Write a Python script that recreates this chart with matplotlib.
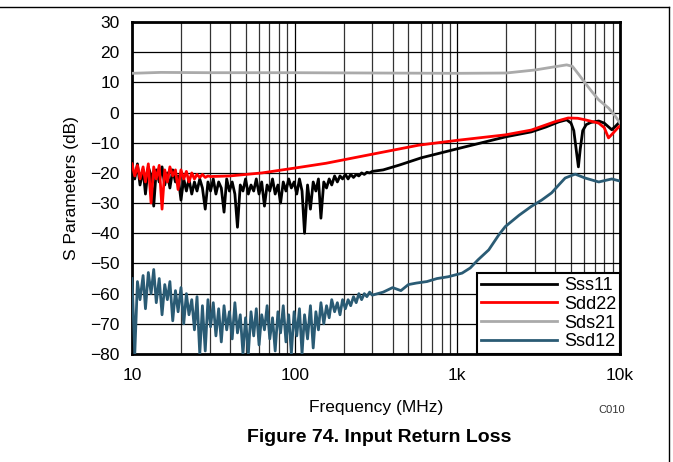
import matplotlib
matplotlib.use("Agg")
import matplotlib.pyplot as plt
from matplotlib.lines import Line2D

plt.rcParams['font.family'] = ['Liberation Sans', 'DejaVu Sans']

# frequency grid of the noisy low band (MHz)
f_low = [10, 10.4, 10.8, 11.2, 11.7, 12.1, 12.6, 13.1, 13.6, 14.1,
         14.7, 15.3, 15.9, 16.5, 17.1, 17.8, 18.5, 19.2, 20.0, 20.8,
         21.6, 22.4, 23.3, 24.2, 25.1, 26.1, 27.1, 28.2, 29.3, 30.4,
         31.6, 32.8, 34.1, 35.4, 36.8, 38.2, 39.7, 41.3, 42.9, 44.5,
         46.3, 48.1, 49.9, 51.9, 53.9, 56.0, 58.1, 60.4, 62.7, 65.2,
         67.7, 70.3, 73.1, 75.9, 78.9, 81.9, 85.1, 88.4, 91.9, 95.4,
         99.2, 103, 107, 111, 115, 120, 125, 130, 135, 140,
         145, 151, 157, 163, 169, 176, 183, 190, 197, 205,
         213, 221, 230, 239, 248, 258, 268, 278, 289, 300]

# Sss11
sss11_low = [-18, -22, -17, -24, -19, -27, -18, -21, -31, -19,
             -23, -18, -24, -20, -25, -19, -23, -21, -29, -22,
             -26, -22, -27, -23, -26, -22, -25, -32, -23, -26,
             -22, -27, -23, -25, -33, -22, -26, -23, -27, -38,
             -24, -26, -22, -27, -24, -26, -22, -27, -23, -31,
             -24, -26, -22, -27, -24, -30, -23, -26, -22, -25,
             -23, -27, -22, -26, -40, -24, -32, -23, -26, -22,
             -35, -23, -25, -22, -24, -21, -23, -21, -22, -20.5,
             -22, -20.5, -21.5, -20.5, -21, -20, -20.5, -19.8, -20, -19.5]
f_sss11_hi = [350, 440, 600, 1000, 2000, 2850, 3500, 4200, 4700, 5000, 5200,
              5400, 5550, 5700, 5900, 6200, 6600, 7400, 8000, 8900, 9400, 10000]
sss11_hi = [-19, -17.4, -15, -12, -8, -6.4, -4.8, -3.1, -2.4, -3.5, -6,
            -13, -18, -12, -6, -4, -3.3, -2.8, -3.5, -5.7, -4.5, -3]

# Sdd22
sdd22_low = [-17, -21, -17.5, -22, -18, -23, -17, -30, -18, -22,
             -17.5, -32, -19, -23, -18, -21, -19, -25.5, -19, -22,
             -19.5, -23, -20, -22, -20.5, -21.5, -20.5, -21.5, -21, -21.2]
f_sdd22_hi = [40, 63, 100, 156, 300, 580, 1000, 1970, 2850, 4000, 4800,
              5500, 6100, 7400, 8000, 8500, 9000, 9800, 10000]
sdd22_hi = [-21, -20, -18.4, -16.8, -13.8, -10.8, -9.2, -7.4, -5.8, -3, -1.8,
            -1.9, -2.4, -3.5, -5, -8.4, -7, -4.8, -4.5]

# Sds21
f_sds21 = [10, 15, 30, 100, 300, 1000, 2000, 3000, 4000, 4700, 5100,
           5600, 6100, 6700, 7400, 8500, 9300, 10000]
sds21 = [13, 13.3, 13.2, 13.2, 13.1, 13.0, 13.1, 14.1, 15.2, 15.8, 15.3,
         12.5, 9.8, 7, 4.2, 1.5, -1, -3.5]

# Ssd12
ssd12_low = [-55, -80, -56, -62, -54, -65, -53, -60, -52, -63,
             -55, -67, -57, -62, -56, -69, -59, -66, -58, -70,
             -60, -67, -62, -72, -61, -80, -64, -79, -62, -71,
             -63, -74, -65, -76, -64, -72, -66, -75, -63, -73,
             -67, -80, -68, -80, -66, -74, -65, -77, -67, -72,
             -64, -75, -68, -79, -66, -73, -64, -76, -67, -80,
             -66, -74, -65, -80, -67, -75, -64, -78, -66, -72,
             -63, -70, -64, -68, -62, -66, -63, -67, -62, -65,
             -62, -64, -61, -63, -60, -62, -60, -61, -59.5, -60.5]
f_ssd12_hi = [350, 400, 450, 500, 560, 650, 750, 880, 1070, 1200, 1340,
              1560, 1800, 1970, 2400, 2850, 3300, 3800, 4200, 4600, 5300,
              6100, 7400, 8900, 10000]
ssd12_hi = [-59.5, -58, -59, -57, -56.5, -56, -55, -54.4, -53.2, -51.5, -48.8,
            -45.5, -40.5, -37.8, -34, -31.1, -29, -26.6, -24, -21.7, -20.4,
            -21.7, -23, -22, -22.7]

fig = plt.figure(figsize=(6.73, 4.62), dpi=100)
ax = fig.add_axes([132/673, 1 - 354/462, (620 - 132)/673, (354 - 22)/462])

lw = 2.0
ax.plot(f_low + f_sss11_hi, sss11_low + sss11_hi, color='black', lw=lw, label='Sss11', zorder=3)
ax.plot(f_low[:30] + f_sdd22_hi, sdd22_low + sdd22_hi, color='#ff0000', lw=lw, label='Sdd22', zorder=4)
ax.plot(f_sds21, sds21, color='#aaaaaa', lw=lw, label='Sds21', zorder=3)
ax.plot(f_low + f_ssd12_hi, ssd12_low + ssd12_hi, color='#2a5b74', lw=lw, label='Ssd12', zorder=3)

ax.set_xscale('log')
ax.set_xlim(10, 10000)
ax.set_ylim(-80, 30)
ax.set_yticks(range(-80, 31, 10))
ax.set_xticks([10, 100, 1000, 10000])
ax.set_xticklabels(['10', '100', '1k', '10k'])
ax.tick_params(which='both', length=0, labelsize=12.5)
ax.tick_params(axis='x', pad=10)
ax.tick_params(axis='y', pad=9)
ax.grid(True, which='major', color='black', lw=0.9)
ax.grid(True, which='minor', axis='x', color='#333333', lw=0.9)
for s in ax.spines.values():
    s.set_linewidth(2)
ax.set_axisbelow(True)

ax.set_xlabel('Frequency (MHz)', fontsize=12.5, labelpad=12)
ax.set_ylabel('S Parameters (dB)', fontsize=12.5, labelpad=8)

leg = ax.legend(loc='lower right', borderaxespad=0, fancybox=False, fontsize=13,
                handlelength=4.2, handletextpad=0.4, labelspacing=0.1,
                borderpad=0.2, framealpha=1)
leg.get_frame().set_edgecolor('black')
leg.get_frame().set_linewidth(1.5)

fig.text(612/673, 1 - 410/462, 'C010', fontsize=8, ha='center', va='center', color='#333333')
fig.text(379/673, 1 - 437/462, 'Figure 74. Input Return Loss', fontsize=14,
         fontweight='bold', ha='center', va='center')

# page frame lines (top and right)
fig.add_artist(Line2D([0, 669/673], [1 - 7/462, 1 - 7/462], color='black', lw=1, transform=fig.transFigure))
fig.add_artist(Line2D([669/673, 669/673], [0, 1 - 7/462], color='black', lw=1, transform=fig.transFigure))

fig.savefig('out.png', dpi=100)
